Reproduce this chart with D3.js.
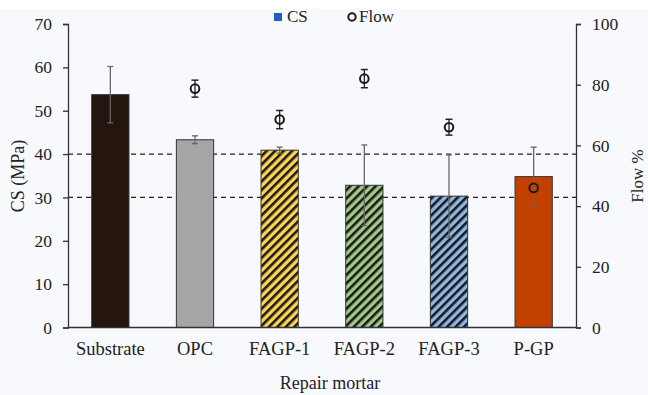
<!DOCTYPE html>
<html><head><meta charset="utf-8">
<script src="https://cdn.jsdelivr.net/npm/d3@7"></script>
<style>
html,body{margin:0;padding:0;background:#fff;}
svg{display:block;font-family:"Liberation Serif","Times New Roman",serif;}
</style></head>
<body>
<svg id="chart" width="648" height="395"></svg>
<script>
const categories = ["Substrate","OPC","FAGP-1","FAGP-2","FAGP-3","P-GP"];
const csValues = [53.7, 43.3, 40.9, 32.8, 30.3, 34.8];
const csErrors = [6.5, 0.9, 0.7, 9.3, 9.5, 6.8];
const flowValues = [null, 78.7, 68.5, 82.0, 66.0, 46.0];
const flowErrors = [null, 2.8, 3.0, 3.0, 2.6, 0];
const barColors = ["#24150f","#a6a6a6","#fdd34f","#a1c986","#8fb7e6","#c24100"];
const barHatched = [false,false,true,true,true,false];
const csTicks = [0,10,20,30,40,50,60,70];
const flowTicks = [0,20,40,60,80,100];
const refLines = [30,40];

(function(){
const svg = d3.select("#chart");
svg.append("rect").attr("x",0).attr("y",9).attr("width",648).attr("height",386).attr("fill","#f8f9fd");

const mL = 68, mR = 576, mT = 24, mB = 327.5;
const x = d3.scaleBand().domain(categories).range([mL,mR]).paddingInner(0.56).paddingOuter(0.28);
const yCS = d3.scaleLinear().domain([0,70]).range([mB,mT]);
const yFlow = d3.scaleLinear().domain([0,100]).range([mB,mT]);

const defs = svg.append("defs");
categories.forEach((c,i)=>{
  if(!barHatched[i]) return;
  const p = defs.append("pattern").attr("id","hatch"+i).attr("patternUnits","userSpaceOnUse")
    .attr("width",6).attr("height",6).attr("patternTransform","rotate(45)");
  p.append("rect").attr("width",6).attr("height",6).attr("fill",barColors[i]);
  p.append("rect").attr("x",0).attr("width",2.6).attr("height",6).attr("fill","#1a1a1a");
});

svg.selectAll("line.ref").data(refLines).enter().append("line")
  .attr("x1",mL).attr("x2",mR).attr("y1",d=>yCS(d)).attr("y2",d=>yCS(d))
  .attr("stroke","#222").attr("stroke-width",1.3).attr("stroke-dasharray","5,4");

svg.selectAll("rect.bar").data(categories).enter().append("rect")
  .attr("x",d=>x(d)).attr("width",x.bandwidth())
  .attr("y",(d,i)=>yCS(csValues[i])).attr("height",(d,i)=>yCS(0)-yCS(csValues[i]))
  .attr("fill",(d,i)=>barHatched[i]?`url(#hatch${i})`:barColors[i])
  .attr("stroke","#333").attr("stroke-width",1);

const eb = svg.append("g").attr("stroke","#666").attr("stroke-width",1.3);
categories.forEach((c,i)=>{
  const cx = x(c)+x.bandwidth()/2;
  const y1 = yCS(csValues[i]+csErrors[i]), y2 = yCS(csValues[i]-csErrors[i]);
  eb.append("line").attr("x1",cx).attr("x2",cx).attr("y1",y1).attr("y2",y2);
  eb.append("line").attr("x1",cx-3).attr("x2",cx+3).attr("y1",y1).attr("y2",y1);
  eb.append("line").attr("x1",cx-3).attr("x2",cx+3).attr("y1",y2).attr("y2",y2);
});

const fg = svg.append("g");
categories.forEach((c,i)=>{
  if(flowValues[i]==null) return;
  const cx = x(c)+x.bandwidth()/2;
  if(flowErrors[i]>0){
    const y1 = yFlow(flowValues[i]+flowErrors[i]), y2 = yFlow(flowValues[i]-flowErrors[i]);
    fg.append("line").attr("x1",cx).attr("x2",cx).attr("y1",y1).attr("y2",y2).attr("stroke","#222").attr("stroke-width",1.3);
    fg.append("line").attr("x1",cx-3.5).attr("x2",cx+3.5).attr("y1",y1).attr("y2",y1).attr("stroke","#222").attr("stroke-width",1.5);
    fg.append("line").attr("x1",cx-3.5).attr("x2",cx+3.5).attr("y1",y2).attr("y2",y2).attr("stroke","#222").attr("stroke-width",1.5);
  }
  fg.append("circle").attr("cx",cx).attr("cy",yFlow(flowValues[i])).attr("r",4.3)
    .attr("fill","none").attr("stroke","#1a1a1a").attr("stroke-width",2);
});

const axL = svg.append("g").attr("transform",`translate(${mL},0)`)
  .call(d3.axisLeft(yCS).tickValues(csTicks).tickSize(5).tickPadding(11));
const axR = svg.append("g").attr("transform",`translate(${mR},0)`)
  .call(d3.axisRight(yFlow).tickValues(flowTicks).tickSize(5).tickPadding(11));
const axB = svg.append("g").attr("transform",`translate(0,${mB})`)
  .call(d3.axisBottom(x).tickSize(0).tickPadding(14));
[axL,axR,axB].forEach(a=>{
  a.selectAll("path,line").attr("stroke","#333").attr("stroke-width",1.3);
  a.selectAll("text").attr("font-family","Liberation Serif, serif").attr("font-size",17.5).attr("fill","#222");
});
axB.selectAll("text").attr("font-size",18.5);
axB.select("path.domain").attr("d",`M${mL},0H${mR}`);

svg.append("text").attr("transform","translate(24,176) rotate(-90)").attr("text-anchor","middle")
  .attr("font-size",18).attr("fill","#222").text("CS (MPa)");
svg.append("text").attr("transform","translate(643,176) rotate(-90)").attr("text-anchor","middle")
  .attr("font-size",17).attr("fill","#222").text("Flow %");
svg.append("text").attr("x",330).attr("y",389).attr("text-anchor","middle")
  .attr("font-size",18).attr("fill","#222").text("Repair mortar");

const lg = svg.append("g");
lg.append("rect").attr("x",274).attr("y",13).attr("width",8).attr("height",8).attr("fill","#1f5fbf");
lg.append("text").attr("x",287).attr("y",22).attr("font-size",17).attr("fill","#222").text("CS");
lg.append("circle").attr("cx",352).attr("cy",17).attr("r",3.7).attr("fill","none").attr("stroke","#1a1a1a").attr("stroke-width",2);
lg.append("text").attr("x",359).attr("y",22).attr("font-size",17).attr("fill","#222").text("Flow");
})();
</script>
</body></html>
